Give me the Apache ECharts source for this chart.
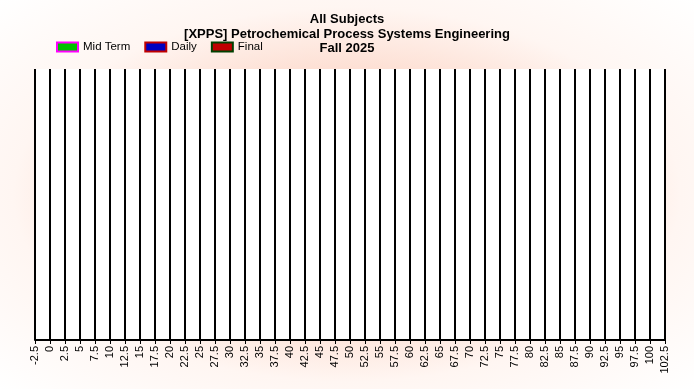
<!DOCTYPE html>
<html>
<head>
<meta charset="utf-8">
<script src="https://cdn.jsdelivr.net/npm/echarts@6/dist/echarts.min.js"></script>
<style>
html,body{margin:0;padding:0;}
#c{width:694px;height:389px;background:radial-gradient(ellipse at center,#fbcdb9 0%,#fddfd3 45%,#fff6f2 68%,#ffffff 100%);}
</style>
</head>
<body>
<div id="c"></div>
<script>
const titleLines = ["All Subjects", "[XPPS] Petrochemical Process Systems Engineering", "Fall 2025"];
const seriesNames = ["Mid Term", "Daily", "Final"];
const seriesFill = ["#00c000", "#0000c0", "#c00000"];
const seriesBorder = ["#ff00ff", "#c00000", "#004000"];
const xMin = -2.5;
const xMax = 102.5;
const xInterval = 2.5;
const midTermValues = [];
const dailyValues = [];
const finalValues = [];
const seriesValues = [midTermValues, dailyValues, finalValues];

const chart = echarts.init(document.getElementById('c'), null, {renderer: 'canvas'});
chart.setOption({
  animation: false,
  title: {
    text: titleLines.join('\n'),
    left: 'center',
    top: 12,
    padding: 0,
    textStyle: {fontFamily: 'Liberation Sans', fontSize: 13, fontWeight: 'bold', color: '#000', lineHeight: 14.7}
  },
  legend: {
    left: 56,
    top: 41,
    padding: 0,
    icon: 'rect',
    itemWidth: 21,
    itemHeight: 9,
    itemGap: 14,
    textStyle: {fontFamily: 'Liberation Sans', fontSize: 11.5, color: '#000', padding: [0,0,0,0]},
    data: seriesNames.map((n, i) => ({name: n, itemStyle: {color: seriesFill[i], borderColor: seriesBorder[i], borderWidth: 2}}))
  },
  grid: {left: 35, right: 29, top: 69, bottom: 49, show: true, backgroundColor: '#ffffff', borderWidth: 0, containLabel: false},
  xAxis: {
    type: 'value',
    min: xMin, max: xMax, interval: xInterval,
    axisLine: {show: true, lineStyle: {color: '#000', width: 2}},
    axisTick: {show: true, length: 4, lineStyle: {color: '#000', width: 1}},
    splitLine: {show: true, lineStyle: {color: '#000', width: 2}},
    axisLabel: {rotate: 90, fontFamily: 'Liberation Sans', fontSize: 11, color: '#000', margin: 6, showMinLabel: true, showMaxLabel: true, hideOverlap: false}
  },
  yAxis: {type: 'value', min: 0, max: 1, show: false, splitLine: {show: false}},
  series: seriesNames.map((n, i) => ({
    name: n, type: 'bar', data: seriesValues[i],
    itemStyle: {color: seriesFill[i], borderColor: seriesBorder[i], borderWidth: 2}
  }))
});
</script>
</body>
</html>
